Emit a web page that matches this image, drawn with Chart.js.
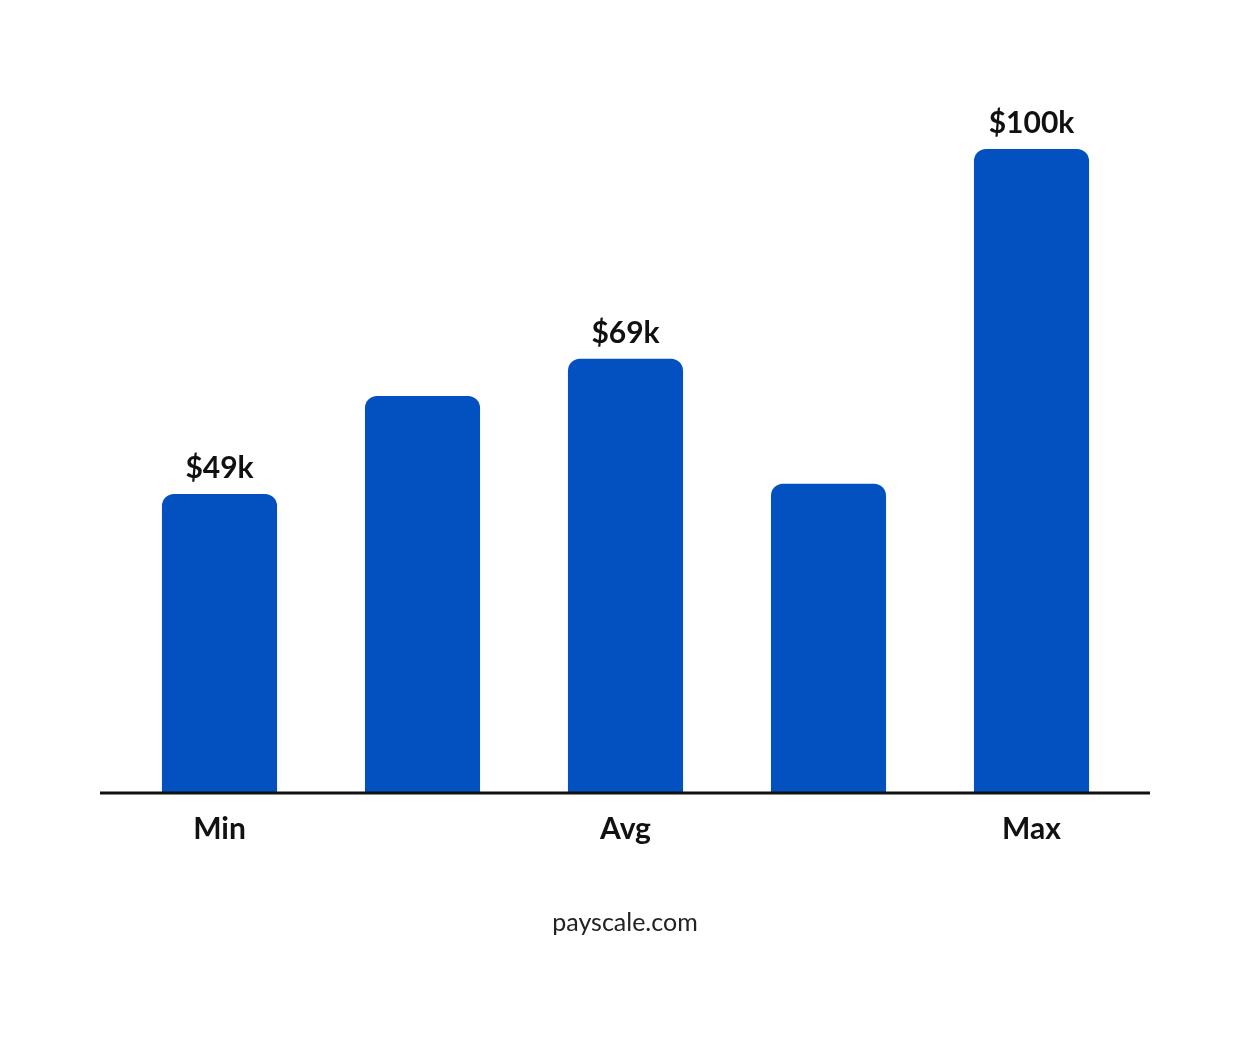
<!DOCTYPE html>
<html><head><meta charset="utf-8">
<script src="https://cdn.jsdelivr.net/npm/chart.js@4"></script>
<style>html,body{margin:0;padding:0;background:#fff}#w{width:1250px;height:1043px;position:relative}</style>
</head><body><div id="w"><canvas id="c"></canvas></div>
<script>
const categories = ["Min", "", "Avg", "", "Max"];
const values = [49, 63.5, 69, 50.5, 100];
const valueLabels = ["$49k", "", "$69k", "", "$100k"];
const source = "payscale.com";

const overlay = {
  id: 'overlay',
  afterDatasetsDraw(chart) {
    const ctx = chart.ctx, meta = chart.getDatasetMeta(0);
    const base = chart.scales.y.getPixelForValue(chart.scales.y.min);
    ctx.save();
    ctx.strokeStyle = '#111'; ctx.lineWidth = 3;
    ctx.beginPath(); ctx.moveTo(100, base); ctx.lineTo(1150, base); ctx.stroke();
    ctx.fillStyle = '#111'; ctx.textAlign = 'center';
    ctx.font = 'bold 30px Lato';
    meta.data.forEach((b, i) => {
      ctx.textBaseline = 'alphabetic';
      if (valueLabels[i]) ctx.fillText(valueLabels[i], b.x, b.y - 16);
      if (categories[i]) ctx.fillText(categories[i], b.x, base + 46);
    });
    ctx.font = '25px Lato'; ctx.fillStyle = '#222';
    ctx.fillText(source, 625, 931);
    ctx.restore();
  }
};

new Chart(document.getElementById('c'), {
  type: 'bar',
  data: { labels: categories, datasets: [{ data: values, backgroundColor: '#0351C1',
    borderRadius: { topLeft: 12, topRight: 12 }, borderSkipped: 'bottom',
    categoryPercentage: 1, barPercentage: 0.567 }] },
  options: {
    responsive: true, maintainAspectRatio: false, animation: false,
    layout: { padding: { left: 118, right: 117, top: 149, bottom: 250 } },
    plugins: { legend: { display: false }, tooltip: { enabled: false } },
    scales: {
      x: { display: false },
      y: { display: false, min: 4.8, max: 100 }
    }
  },
  plugins: [overlay]
});
</script></body></html>
